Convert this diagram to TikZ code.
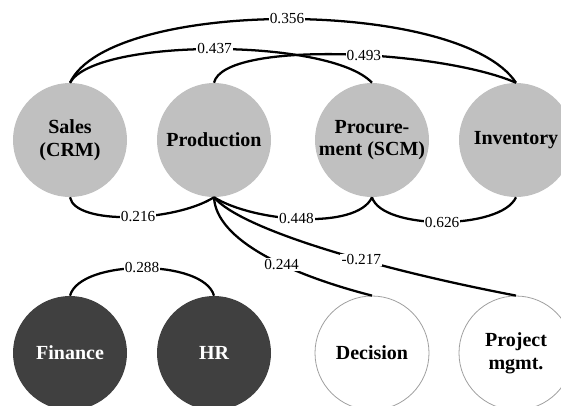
\documentclass[tikz,border=0pt]{standalone}
\usepackage{fontspec}
\setmainfont{Liberation Serif}

\definecolor{modgray}{HTML}{C0C0C0}
\definecolor{moddark}{HTML}{404040}
\definecolor{modrim}{HTML}{A0A0A0}

\tikzset{
  module/.style={circle, minimum size=85.5pt, inner sep=0pt, align=center,
    font=\fontsize{15}{17}\selectfont\bfseries},
  core/.style={module, fill=modgray},
  support/.style={module, fill=moddark, text=white},
  extmod/.style={module, draw=modrim, fill=white, line width=0.6pt},
  corr/.style={line width=1.7pt},
  coef/.style={fill=white, inner sep=0.8pt, font=\fontsize{11.5}{12}\selectfont}
}

\begin{document}
\begin{tikzpicture}[x=0.75pt, y=-0.75pt]
  \useasboundingbox (0,0) rectangle (561,405);
  \clip (0,0) rectangle (561,405);

  % upper row
  \node[core] (sales) at (70,140) {Sales\\(CRM)};
  \node[core] (prod) at (214,140) {Production};
  \node[core] (proc) at (372,140) {Procure-\\ment (SCM)};
  \node[core] (inv) at (516,140) {Inventory};

  % lower row
  \node[support] (fin) at (70,353) {Finance};
  \node[support] (hr) at (214,353) {HR};
  \node[extmod] (dec) at (372,353) {Decision};
  \node[extmod] (pm) at (516,353) {Project\\mgmt.};

  % arcs above
  \draw[corr] (sales.north) .. controls +(40,-85) and +(-56,-85) .. (inv.north)
    node[coef, pos=0.5] {0.356};
  \draw[corr] (sales.north) .. controls +(25,-45) and +(-42,-45) .. (proc.north)
    node[coef, pos=0.5] {0.437};
  \draw[corr] (prod.north) .. controls +(10,-43) and +(-76,-33) .. (inv.north)
    node[coef, pos=0.56] {0.493};

  % arcs below
  \draw[corr] (sales.south) .. controls +(5,28) and +(-40,25) .. (prod.south)
    node[coef, pos=0.55] {0.216};
  \draw[corr] (prod.south) .. controls +(40,25) and +(-15,33) .. (proc.south)
    node[coef, pos=0.47] {0.448};
  \draw[corr] (proc.south) .. controls +(10,33) and +(-15,33) .. (inv.south)
    node[coef, pos=0.5] {0.626};
  \draw[corr] (prod.south) .. controls +(2,43) and +(-82,-21) .. (dec.north)
    node[coef, pos=0.6] {0.244};
  \draw[corr] (prod.south) .. controls +(26,31) and +(-146,-28) .. (pm.north)
    node[coef, pos=0.62] {-0.217};
  \draw[corr] (fin.north) .. controls +(10,-37) and +(-10,-37) .. (hr.north)
    node[coef, pos=0.5] {0.288};
\end{tikzpicture}
\end{document}
